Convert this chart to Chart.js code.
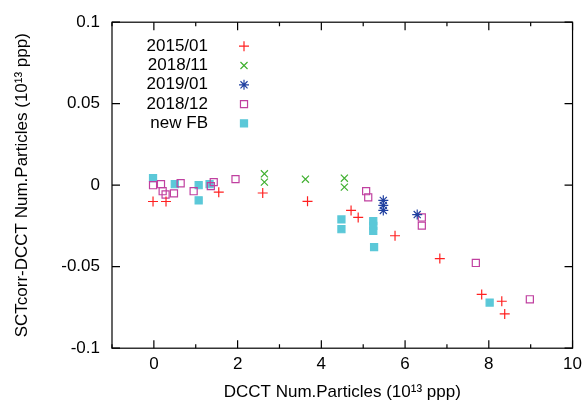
<!DOCTYPE html>
<html><head><script src="https://cdn.jsdelivr.net/npm/chart.js@4"></script>
<style>body{margin:0;background:#fff}#c{width:588px;height:407px}</style></head>
<body><div id="c"><canvas id="chart"></canvas></div>
<script>
const labels = ['2015/01', '2018/11', '2019/01', '2018/12', 'new FB'];
const s2015x = [-0.02, 0.29, 1.55, 2.6, 3.67, 4.71, 4.88, 5.76, 6.83, 7.83, 8.31, 8.38];
const s2015y = [-0.010, -0.010, -0.0043, -0.0048, -0.0099, -0.0155, -0.0198, -0.031, -0.045, -0.067, -0.0712, -0.079];
const s201811x = [2.64, 2.64, 3.62, 4.55, 4.55];
const s201811y = [0.007, 0.0019, 0.0037, 0.0043, -0.0012];
const s201901x = [5.48, 5.48, 5.48, 6.29];
const s201901y = [-0.0093, -0.0124, -0.0155, -0.018];
const s201812x = [-0.02, 0.17, 0.21, 0.28, 0.48, 0.64, 0.95, 1.36, 1.43, 1.95, 5.07, 5.12, 6.4, 6.4, 7.69, 8.98];
const s201812y = [0, 0.0006, -0.0037, -0.0057, -0.005, 0.0012, -0.0037, -0.0006, 0.0019, 0.0037, -0.0037, -0.0074, -0.0198, -0.0248, -0.0477, -0.070];
const sfbx = [-0.02, 0.5, 1.07, 1.07, 1.33, 4.48, 4.48, 5.24, 5.24, 5.24, 5.26, 8.02];
const sfby = [0.0043, 0.0006, 0, -0.0093, 0.0006, -0.021, -0.027, -0.022, -0.025, -0.028, -0.038, -0.072];
const xTicks = [0, 2, 4, 6, 8, 10];
const yTicks = [-0.1, -0.05, 0, 0.05, 0.1];

const pts = (xs, ys) => xs.map((x, i) => ({x, y: ys[i]}));
const styles = [
  {c: '#ff2020', p: 'cross', r: 5, f: false},
  {c: '#40b030', p: 'crossRot', r: 5, f: false},
  {c: '#2040a0', p: 'star', r: 5, f: false},
  {c: '#c040a0', p: 'rect', r: 5, f: false},
  {c: '#5bc8d8', p: 'rect', r: 5, f: true}
];
const data = [pts(s2015x, s2015y), pts(s201811x, s201811y), pts(s201901x, s201901y), pts(s201812x, s201812y), pts(sfbx, sfby)];
const datasets = data.map((d, i) => ({
  label: labels[i], data: d, pointStyle: styles[i].p, pointRadius: styles[i].r,
  borderColor: styles[i].c, backgroundColor: styles[i].f ? styles[i].c : 'rgba(0,0,0,0)',
  borderWidth: 1.2
}));

const boxPlugin = {
  id: 'box',
  afterDraw(chart) {
    const {ctx, chartArea: a, scales} = chart;
    ctx.save();
    ctx.strokeStyle = '#000'; ctx.lineWidth = 1.2;
    ctx.strokeRect(a.left, a.top, a.right - a.left, a.bottom - a.top);
    ctx.beginPath();
    xTicks.forEach(v => {
      const x = scales.x.getPixelForValue(v);
      ctx.moveTo(x, a.bottom); ctx.lineTo(x, a.bottom - 8);
      ctx.moveTo(x, a.top); ctx.lineTo(x, a.top + 8);
    });
    [-1, 1, 3, 5, 7, 9].forEach(v => {
      const x = scales.x.getPixelForValue(v);
      ctx.moveTo(x, a.bottom); ctx.lineTo(x, a.bottom - 4);
      ctx.moveTo(x, a.top); ctx.lineTo(x, a.top + 4);
    });
    yTicks.forEach(v => {
      const y = scales.y.getPixelForValue(v);
      ctx.moveTo(a.left, y); ctx.lineTo(a.left + 8, y);
      ctx.moveTo(a.right, y); ctx.lineTo(a.right - 8, y);
    });
    ctx.stroke();
    // legend
    ctx.font = '17px Arial, "Liberation Sans", sans-serif';
    ctx.textAlign = 'right';
    ctx.textBaseline = 'middle';
    labels.forEach((l, i) => {
      const y = a.top + 24 + i * 19.3;
      ctx.fillStyle = '#000';
      ctx.fillText(l, a.left + 96, y);
      const s = styles[i];
      ctx.strokeStyle = s.c; ctx.fillStyle = s.f ? s.c : 'rgba(0,0,0,0)'; ctx.lineWidth = 1.2;
      Chart.helpers.drawPoint(ctx, {pointStyle: s.p, radius: s.r, borderWidth: 1.2}, a.left + 132, y);
    });
    ctx.restore();
  }
};

const font = {family: 'Arial, "Liberation Sans", sans-serif', size: 17};
new Chart(document.getElementById('chart'), {
  type: 'scatter',
  data: {datasets},
  plugins: [boxPlugin],
  options: {
    responsive: true, maintainAspectRatio: false, animation: false,
    layout: {padding: {top: 14, right: 10, left: 8, bottom: 0}},
    plugins: {legend: {display: false}, tooltip: {enabled: false}},
    scales: {
      x: {min: -1, max: 10,
        afterBuildTicks: s => { s.ticks = xTicks.map(v => ({value: v})); },
        ticks: {font, color: '#000', padding: 6},
        grid: {display: false, drawTicks: false},
        border: {display: false},
        title: {display: true, text: 'DCCT Num.Particles (10¹³ ppp)', font, color: '#000', padding: {top: 2}}
      },
      y: {min: -0.1, max: 0.1,
        afterBuildTicks: s => { s.ticks = yTicks.map(v => ({value: v})); },
        ticks: {font, color: '#000', padding: 12, callback: v => (Math.abs(v) < 1e-9 ? '0' : String(+v.toFixed(2)))},
        grid: {display: false, drawTicks: false},
        border: {display: false},
        afterFit: s => { s.width = 104; },
        title: {display: true, text: 'SCTcorr-DCCT Num.Particles (10¹³ ppp)', font, color: '#000'}
      }
    }
  }
});
</script></body></html>
